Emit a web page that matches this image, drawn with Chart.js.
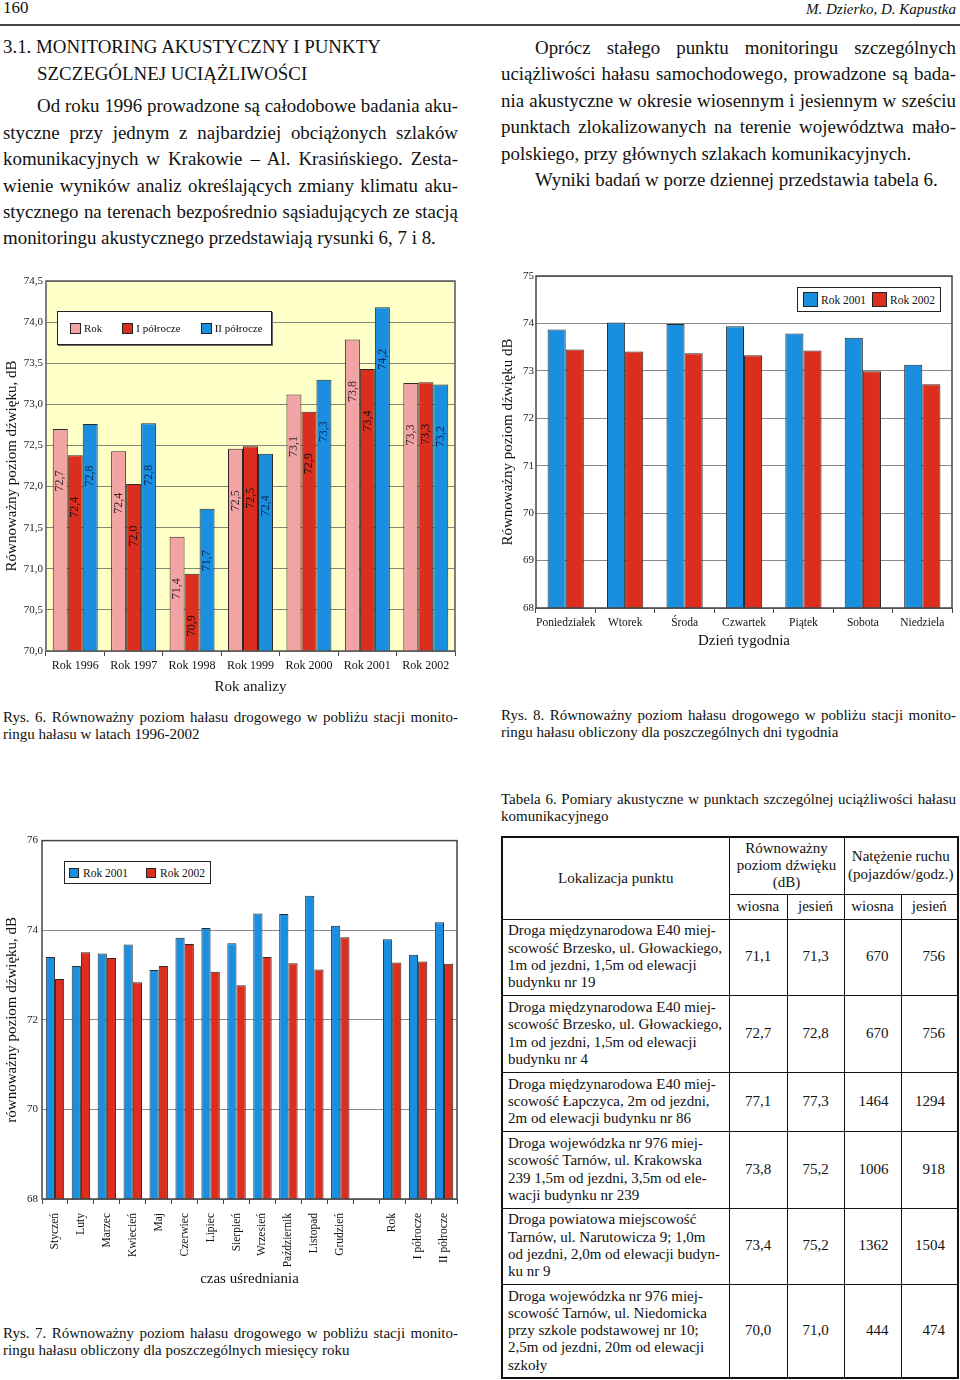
<!DOCTYPE html>
<html lang="pl">
<head>
<meta charset="utf-8">
<title>Monitoring akustyczny</title>
<script src="https://cdn.jsdelivr.net/npm/chart.js@4.4.1/dist/chart.umd.min.js"></script>
<style>
    body {
        margin: 0;
        width: 960px;
        height: 1380px;
        position: relative;
        background: #fff;
        color: #111;
        font-family: 'Liberation Serif', 'Times New Roman', serif;
        overflow: hidden;
    }
    .ln { position: absolute; white-space: nowrap; font-size: 18.9px; line-height: 26px; height: 26px; }
    .j { white-space: normal; text-align: justify; text-align-last: justify; overflow: hidden; }
    .cap { position: absolute; font-size: 15px; line-height: 17px; white-space: nowrap; }
    .cap.j { white-space: normal; height: 17px; overflow: hidden; }
    .rule { position: absolute; left: 0; top: 24px; width: 960px; height: 2px; background: #444; }
    canvas { position: absolute; }
    .legend { position: absolute; background: #fff; border: 1.5px solid #222; box-sizing: border-box;
              display: flex; align-items: center; font-size: 11.5px; white-space: nowrap; overflow: hidden; }
    .legend .item { display: flex; align-items: center; white-space: nowrap; flex: none; }
    .legend .sw { border: 1px solid #222; box-sizing: border-box; flex: none; }
    table.t6 { position: absolute; left: 501px; top: 836px; width: 456px; border-collapse: collapse;
               font-size: 15px; line-height: 17.3px; border: 2px solid #111; table-layout: fixed; }
    table.t6 td { border: 1.5px solid #111; padding: 0 2px; vertical-align: middle; white-space: nowrap; }
    table.t6 td.c { text-align: center; }
    table.t6 td.r { text-align: right; padding-right: 12px; }
    table.t6 td.loc { padding: 1px 0 1px 5px; overflow: hidden; }
</style>
</head>
<body>

<div class="ln" style="left:3px; top:-5px; font-size:17px;">160</div>
<div class="ln" style="right:4px; top:-4px; font-size:15px; font-style:italic;">M. Dzierko, D. Kapustka</div>
<div class="rule"></div>

<div class="ln" style="left:3px; top:34px;">3.1. MONITORING AKUSTYCZNY I PUNKTY</div>
<div class="ln" style="left:37px; top:61px;">SZCZEGÓLNEJ UCIĄŻLIWOŚCI</div>
<div class="ln j" style="left:37px; top:93px; width:421px;">Od roku 1996 prowadzone są całodobowe badania aku-</div>
<div class="ln j" style="left:3px; top:120px; width:455px;">styczne przy jednym z najbardziej obciążonych szlaków</div>
<div class="ln j" style="left:3px; top:146px; width:455px;">komunikacyjnych w Krakowie – Al. Krasińskiego. Zesta-</div>
<div class="ln j" style="left:3px; top:173px; width:455px;">wienie wyników analiz określających zmiany klimatu aku-</div>
<div class="ln j" style="left:3px; top:199px; width:455px;">stycznego na terenach bezpośrednio sąsiadujących ze stacją</div>
<div class="ln" style="left:3px; top:225px;">monitoringu akustycznego przedstawiają rysunki 6, 7 i 8.</div>

<div class="ln j" style="left:535px; top:35px; width:421px;">Oprócz stałego punktu monitoringu szczególnych</div>
<div class="ln j" style="left:501px; top:61px; width:455px;">uciążliwości hałasu samochodowego, prowadzone są bada-</div>
<div class="ln j" style="left:501px; top:88px; width:455px;">nia akustyczne w okresie wiosennym i jesiennym w sześciu</div>
<div class="ln j" style="left:501px; top:114px; width:455px;">punktach zlokalizowanych na terenie województwa mało-</div>
<div class="ln" style="left:501px; top:141px;">polskiego, przy głównych szlakach komunikacyjnych.</div>
<div class="ln" style="left:535px; top:167px;">Wyniki badań w porze dziennej przedstawia tabela 6.</div>

<canvas id="yearsChart" width="470" height="430" style="left:0; top:270px;"></canvas>
<canvas id="daysChart" width="470" height="390" style="left:490px; top:265px;"></canvas>
<canvas id="monthsChart" width="470" height="460" style="left:0; top:830px;"></canvas>

<div id="yearsLegend" class="legend" style="left:57px; top:311px; width:215px; height:34px; padding-left:12px; box-shadow:1px 1px 0 #666;"></div>
<div id="daysLegend" class="legend" style="left:797px; top:287px; width:144px; height:25px; padding-left:5px;"></div>
<div id="monthsLegend" class="legend" style="left:64px; top:861px; width:147px; height:23px; padding-left:4px;"></div>

<div class="cap j" style="left:3px; top:709px; width:455px;">Rys. 6. Równoważny poziom hałasu drogowego w pobliżu stacji monito-</div>
<div class="cap" style="left:3px; top:726px;">ringu hałasu w latach 1996-2002</div>

<div class="cap j" style="left:501px; top:707px; width:455px;">Rys. 8. Równoważny poziom hałasu drogowego w pobliżu stacji monito-</div>
<div class="cap" style="left:501px; top:724px;">ringu hałasu obliczony dla poszczególnych dni tygodnia</div>

<div class="cap j" style="left:501px; top:791px; width:455px;">Tabela 6. Pomiary akustyczne w punktach szczególnej uciążliwości hałasu</div>
<div class="cap" style="left:501px; top:808px;">komunikacyjnego</div>

<div class="cap j" style="left:3px; top:1325px; width:455px;">Rys. 7. Równoważny poziom hałasu drogowego w pobliżu stacji monito-</div>
<div class="cap" style="left:3px; top:1342px;">ringu hałasu obliczony dla poszczególnych miesięcy roku</div>

<table class="t6">
    <colgroup>
        <col style="width:227px"><col style="width:58px"><col style="width:57px"><col style="width:57px"><col style="width:57px">
    </colgroup>
    <tr style="height:57px">
        <td class="c" rowspan="2">Lokalizacja punktu</td>
        <td class="c" colspan="2">Równoważny<br>poziom dźwięku<br>(dB)</td>
        <td class="c" colspan="2">Natężenie ruchu<br>(pojazdów/godz.)</td>
    </tr>
    <tr style="height:25px">
        <td class="c">wiosna</td><td class="c">jesień</td><td class="c">wiosna</td><td class="c">jesień</td>
    </tr>
    <tr style="height:76px">
        <td class="loc">Droga międzynarodowa E40 miej-<br>scowość Brzesko, ul. Głowackiego,<br>1m od jezdni, 1,5m od elewacji<br>budynku nr 19</td>
        <td class="c">71,1</td><td class="c">71,3</td><td class="r">670</td><td class="r">756</td>
    </tr>
    <tr style="height:77px">
        <td class="loc">Droga międzynarodowa E40 miej-<br>scowość Brzesko, ul. Głowackiego,<br>1m od jezdni, 1,5m od elewacji<br>budynku nr 4</td>
        <td class="c">72,7</td><td class="c">72,8</td><td class="r">670</td><td class="r">756</td>
    </tr>
    <tr style="height:59px">
        <td class="loc">Droga międzynarodowa E40 miej-<br>scowość Łapczyca, 2m od jezdni,<br>2m od elewacji budynku nr 86</td>
        <td class="c">77,1</td><td class="c">77,3</td><td class="r">1464</td><td class="r">1294</td>
    </tr>
    <tr style="height:77px">
        <td class="loc">Droga wojewódzka nr 976 miej-<br>scowość Tarnów, ul. Krakowska<br>239 1,5m od jezdni, 3,5m od ele-<br>wacji budynku nr 239</td>
        <td class="c">73,8</td><td class="c">75,2</td><td class="r">1006</td><td class="r">918</td>
    </tr>
    <tr style="height:76px">
        <td class="loc">Droga powiatowa miejscowość<br>Tarnów, ul. Narutowicza 9; 1,0m<br>od jezdni, 2,0m od elewacji budyn-<br>ku nr 9</td>
        <td class="c">73,4</td><td class="c">75,2</td><td class="r">1362</td><td class="r">1504</td>
    </tr>
    <tr style="height:94px">
        <td class="loc">Droga wojewódzka nr 976 miej-<br>scowość Tarnów, ul. Niedomicka<br>przy szkole podstawowej nr 10;<br>2,5m od jezdni, 20m od elewacji<br>szkoły</td>
        <td class="c">70,0</td><td class="c">71,0</td><td class="r">444</td><td class="r">474</td>
    </tr>
</table>

<script>
// Rys. 6 - poziom hałasu w latach 1996-2002
const yearLabels = ['Rok 1996', 'Rok 1997', 'Rok 1998', 'Rok 1999', 'Rok 2000', 'Rok 2001', 'Rok 2002'];
const yearSeriesNames = ['Rok', 'I półrocze', 'II półrocze'];
const yearWhole = [72.70, 72.43, 71.39, 72.46, 73.12, 73.79, 73.26];
const yearFirstHalf = [72.38, 72.03, 70.94, 72.49, 72.91, 73.43, 73.27];
const yearSecondHalf = [72.76, 72.77, 71.73, 72.40, 73.30, 74.18, 73.24];
const yearTicks = [70, 74.5, 0.5];

// Rys. 8 - dni tygodnia
const dayLabels = ['Poniedziałek', 'Wtorek', 'Środa', 'Czwartek', 'Piątek', 'Sobota', 'Niedziela'];
const daySeriesNames = ['Rok 2001', 'Rok 2002'];
const days2001 = [73.87, 74.02, 73.99, 73.94, 73.79, 73.70, 73.13];
const days2002 = [73.45, 73.41, 73.37, 73.33, 73.43, 72.99, 72.72];
const dayTicks = [68, 75, 1];

// Rys. 7 - miesiące roku (pusta kategoria oddziela miesiące od okresów)
const monthLabels = ['Styczeń', 'Luty', 'Marzec', 'Kwiecień', 'Maj', 'Czerwiec', 'Lipiec', 'Sierpień',
    'Wrzesień', 'Październik', 'Listopad', 'Grudzień', '', 'Rok', 'I półrocze', 'II półrocze'];
const monthSeriesNames = ['Rok 2001', 'Rok 2002'];
const months2001 = [73.40, 73.20, 73.48, 73.68, 73.11, 73.83, 74.05, 73.71, 74.37, 74.36, 74.77, 74.10, null, 73.80, 73.45, 74.18];
const months2002 = [72.91, 73.51, 73.38, 72.84, 73.20, 73.69, 73.07, 72.77, 73.40, 73.26, 73.12, 73.84, null, 73.28, 73.30, 73.25];
const monthTicks = [68, 76, 2];

const PINK = '#f2a3a3';
const RED = '#dc2e1e';
const BLUE = '#1a8fe0';

Chart.defaults.font.family = "'Liberation Serif', 'Times New Roman', serif";
Chart.defaults.color = '#111';

function fmtComma(v, digits) {
    return Number(v).toFixed(digits).replace('.', ',');
}

// background + frame of the plot area
const plotFrame = {
    id: 'plotFrame',
    beforeDraw(chart, args, opts) {
        const { ctx, chartArea: a } = chart;
        ctx.save();
        ctx.fillStyle = opts.background || '#fff';
        ctx.fillRect(a.left, a.top, a.right - a.left, a.bottom - a.top);
        ctx.restore();
    },
    afterDraw(chart, args, opts) {
        const { ctx, chartArea: a } = chart;
        ctx.save();
        ctx.strokeStyle = opts.color || '#333';
        ctx.lineWidth = 1.5;
        ctx.strokeRect(a.left, a.top, a.right - a.left, a.bottom - a.top);
        ctx.restore();
    }
};

// rotated value labels inside bars (Rys. 6)
const barValueLabels = {
    id: 'barValueLabels',
    afterDatasetsDraw(chart, args, opts) {
        const ctx = chart.ctx;
        chart.data.datasets.forEach(function(ds, i) {
            chart.getDatasetMeta(i).data.forEach(function(bar, j) {
                const h = bar.base - bar.y;
                const cy = bar.y + Math.min(52, h * 0.45);
                ctx.save();
                ctx.translate(bar.x, cy);
                ctx.rotate(-Math.PI / 2);
                ctx.font = "12px 'Liberation Serif'";
                ctx.fillStyle = opts.colors[i];
                ctx.textAlign = 'center';
                ctx.textBaseline = 'middle';
                ctx.fillText(fmtComma(ds.data[j], 1), 0, 0);
                ctx.restore();
            });
        });
    }
};

function buildLegend(id, names, colors, sw, gapText, gapItem) {
    const box = document.getElementById(id);
    names.forEach(function(name, i) {
        const item = document.createElement('span');
        item.className = 'item';
        item.style.marginRight = gapItem + 'px';
        const s = document.createElement('span');
        s.className = 'sw';
        s.style.width = sw + 'px';
        s.style.height = sw + 'px';
        s.style.background = colors[i];
        s.style.marginRight = gapText + 'px';
        item.appendChild(s);
        item.appendChild(document.createTextNode(name));
        box.appendChild(item);
    });
}

function baseScales(opts) {
    return {
        x: {
            grid: { display: true, drawOnChartArea: false, drawTicks: true, tickLength: 5, offset: true, color: '#444' },
            border: { display: false },
            ticks: Object.assign({ font: { size: 12 }, color: '#111', padding: 3, autoSkip: false, minRotation: 0, maxRotation: 0 }, opts.xTicks || {}),
            title: { display: true, text: opts.xTitle, font: { size: 15 }, color: '#111', padding: { top: 0, bottom: opts.xTitlePad } },
            afterFit: function(s) { s.height = opts.xHeight; }
        },
        y: {
            min: opts.yRange[0],
            max: opts.yRange[1],
            grid: { color: opts.gridColor, drawTicks: false, lineWidth: 1 },
            border: { display: false },
            ticks: {
                stepSize: opts.yRange[2],
                font: { size: 11 },
                color: '#222',
                padding: opts.yTickPad,
                callback: opts.yFormat
            },
            title: { display: true, text: opts.yTitle, font: { size: 15 }, color: '#111', padding: { top: opts.yTitlePad, bottom: 0 } },
            afterFit: function(s) { s.width = opts.yWidth; }
        }
    };
}

function initYearsChart() {
    const ctx = document.getElementById('yearsChart').getContext('2d');
    const colors = [PINK, RED, BLUE];
    new Chart(ctx, {
        type: 'bar',
        data: {
            labels: yearLabels,
            datasets: [yearWhole, yearFirstHalf, yearSecondHalf].map(function(d, i) {
                return { label: yearSeriesNames[i], data: d, backgroundColor: colors[i], borderColor: '#2a2a2a', borderWidth: 1 };
            })
        },
        options: {
            responsive: false,
            animation: false,
            layout: { padding: { top: 11, right: 15, bottom: 0, left: 0 } },
            datasets: { bar: { categoryPercentage: 0.77, barPercentage: 1 } },
            plugins: {
                legend: { display: false },
                tooltip: { enabled: false },
                plotFrame: { background: '#ffffc8', color: '#555' },
                barValueLabels: { colors: ['#3a2a2a', '#1a1010', '#0b2a66'] }
            },
            scales: baseScales({
                xTitle: 'Rok analizy', xTitlePad: 4, xHeight: 49,
                yRange: yearTicks, gridColor: '#86867a', yTickPad: 3,
                yFormat: function(v) { return fmtComma(v, 1); },
                yTitle: 'Równoważny poziom dźwięku, dB', yTitlePad: 3, yWidth: 46
            })
        },
        plugins: [plotFrame, barValueLabels]
    });
    document.getElementById('yearsLegend').style.fontSize = '11px';
    buildLegend('yearsLegend', yearSeriesNames, colors, 11, 3, 20);
}

function initDaysChart() {
    const ctx = document.getElementById('daysChart').getContext('2d');
    const colors = [BLUE, RED];
    new Chart(ctx, {
        type: 'bar',
        data: {
            labels: dayLabels,
            datasets: [days2001, days2002].map(function(d, i) {
                return { label: daySeriesNames[i], data: d, backgroundColor: colors[i], borderColor: '#2a2a2a', borderWidth: 1 };
            })
        },
        options: {
            responsive: false,
            animation: false,
            layout: { padding: { top: 11, right: 8, bottom: 0, left: 0 } },
            datasets: { bar: { categoryPercentage: 0.61, barPercentage: 1 } },
            plugins: {
                legend: { display: false },
                tooltip: { enabled: false },
                plotFrame: { background: '#fff', color: '#444' }
            },
            scales: baseScales({
                xTitle: 'Dzień tygodnia', xTitlePad: 5, xHeight: 47,
                xTicks: { font: { size: 11.5 } },
                yRange: dayTicks, gridColor: '#8a8a8a', yTickPad: 2,
                yFormat: function(v) { return String(v); },
                yTitle: 'Równoważny poziom dźwięku dB', yTitlePad: 9, yWidth: 46
            })
        },
        plugins: [plotFrame]
    });
    buildLegend('daysLegend', daySeriesNames, colors, 15, 3, 6);
}

function initMonthsChart() {
    const ctx = document.getElementById('monthsChart').getContext('2d');
    const colors = [BLUE, RED];
    new Chart(ctx, {
        type: 'bar',
        data: {
            labels: monthLabels,
            datasets: [months2001, months2002].map(function(d, i) {
                return { label: monthSeriesNames[i], data: d, backgroundColor: colors[i], borderColor: '#2a2a2a', borderWidth: 1 };
            })
        },
        options: {
            responsive: false,
            animation: false,
            layout: { padding: { top: 10, right: 13, bottom: 0, left: 0 } },
            datasets: { bar: { categoryPercentage: 0.71, barPercentage: 1 } },
            plugins: {
                legend: { display: false },
                tooltip: { enabled: false },
                plotFrame: { background: '#fff', color: '#444' }
            },
            scales: baseScales({
                xTitle: 'czas uśredniania', xTitlePad: 2, xHeight: 91,
                xTicks: { minRotation: 90, maxRotation: 90, font: { size: 11.5 }, padding: 9 },
                yRange: monthTicks, gridColor: '#8a8a8a', yTickPad: 4,
                yFormat: function(v) { return String(v); },
                yTitle: 'równoważny poziom dźwięku, dB', yTitlePad: 3, yWidth: 42
            })
        },
        plugins: [plotFrame]
    });
    buildLegend('monthsLegend', monthSeriesNames, colors, 10, 4, 18);
}

document.addEventListener('DOMContentLoaded', function() {
    initYearsChart();
    initDaysChart();
    initMonthsChart();
});
</script>
</body>
</html>
